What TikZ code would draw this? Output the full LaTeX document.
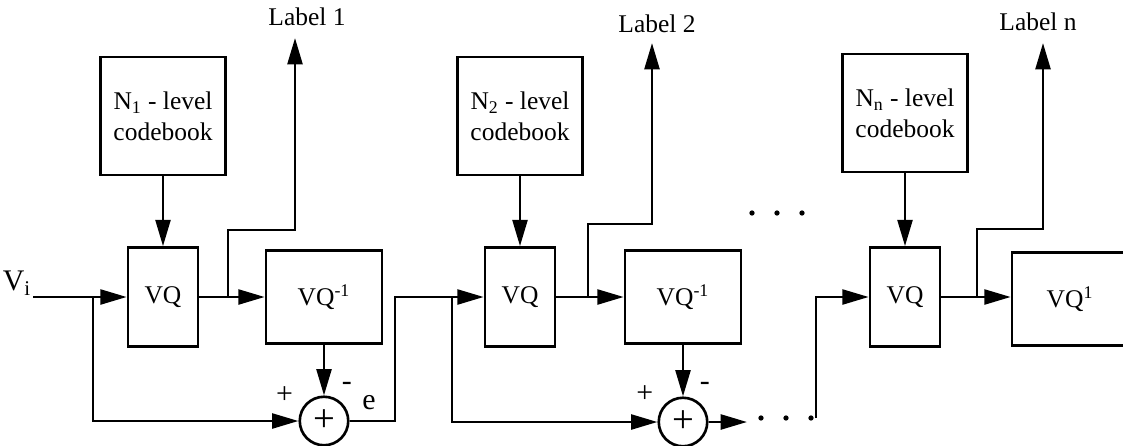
\documentclass[tikz,border=0pt]{standalone}
\usepackage{fontspec}
\setmainfont{Liberation Serif}
\usetikzlibrary{arrows.meta}

\begin{document}
\begin{tikzpicture}[
x=0.2mm,y=-0.2mm,
every node/.style={font=\fontsize{14.5pt}{17.5pt}\selectfont},
cb/.style={draw,line width=1.5pt,align=center,minimum width=2.5cm,minimum height=2.36cm,inner sep=1pt},
vq/.style={draw,line width=1.5pt,minimum width=1.4cm,minimum height=1.98cm},
inv/.style={draw,line width=1.5pt,minimum width=2.32cm,minimum height=1.86cm},
sum/.style={draw,circle,line width=1.5pt,minimum size=0.97cm,inner sep=0pt,font=\fontsize{22pt}{22pt}\selectfont},
pm/.style={label distance=1pt,font=\fontsize{17pt}{17pt}\selectfont},
arr/.style={-{Triangle[length=15pt,width=8.5pt]},line width=1.5pt},
ln/.style={line width=1.5pt}
]
\useasboundingbox (0,0) rectangle (1123,445);
\node[font=\fontsize{17pt}{17pt}\selectfont,inner sep=1pt] (vi) at (17,283) {V\textsubscript{i}};
\node[cb] (cb1) at (163,116) {N\textsubscript{1} - level\\codebook};
\node[vq] (vq1) at (163,297) {VQ};
\node[inv] (inv1) at (324,297) {VQ\textsuperscript{-1}};
\node[sum,label={[pm]155:+},label={[pm]65:-},label={[pm,label distance=4pt]8:e}] (sum1) at (324,421) {+};
\node (lab1) at (307,17) {Label 1};
\coordinate (b1) at (93,297);
\coordinate (j1) at (228,297);
\coordinate (k1) at (295,230);
\coordinate (u1) at (295,38);
\coordinate (t1) at (395,297);
\node[cb] (cb2) at (520,116) {N\textsubscript{2} - level\\codebook};
\node[vq] (vq2) at (520,297) {VQ};
\node[inv] (inv2) at (683,297) {VQ\textsuperscript{-1}};
\node[sum,label={[pm]150:+},label={[pm]67:-}] (sum2) at (683,422) {+};
\node (lab2) at (657,24) {Label 2};
\coordinate (b2) at (452,297);
\coordinate (j2) at (588,297);
\coordinate (k2) at (652,224);
\coordinate (u2) at (652,43);
\coordinate (o2) at (747,422);
\node[cb] (cbn) at (905,113) {N\textsubscript{n} - level\\codebook};
\node[vq] (vqn) at (905,297) {VQ};
\node[inv] (invn) at (1070,299) {VQ\textsuperscript{1}};
\node (labn) at (1038,22) {Label n};
\coordinate (s3) at (816,418);
\coordinate (jn) at (977,297);
\coordinate (kn) at (1043,229);
\coordinate (un) at (1043,43);
\foreach \x in {752,777,802} \fill (\x,213) circle (1.5pt);
\foreach \x in {761,786,811} \fill (\x,418) circle (1.5pt);
\draw[ln] (vi.east |- vq1) -- (b1);
\draw[arr] (b1) -- (vq1);
\draw[arr] (b1) |- (sum1);
\draw[arr] (cb1) -- (vq1);
\draw[ln] (vq1) -- (j1);
\draw[arr] (j1) -- (inv1);
\draw[arr] (j1) |- (k1) -- (u1);
\draw[arr] (inv1) -- (sum1);
\draw[ln] (sum1) -| (t1) -- (b2);
\draw[arr] (b2) -- (vq2);
\draw[arr] (b2) |- (sum2);
\draw[arr] (cb2) -- (vq2);
\draw[ln] (vq2) -- (j2);
\draw[arr] (j2) -- (inv2);
\draw[arr] (j2) |- (k2) -- (u2);
\draw[arr] (inv2) -- (sum2);
\draw[arr] (sum2) -- (o2);
\draw[arr] (s3) |- (vqn);
\draw[arr] (cbn) -- (vqn);
\draw[ln] (vqn) -- (jn);
\draw[arr] (jn) -- (jn -| invn.west);
\draw[arr] (jn) |- (kn) -- (un);
\end{tikzpicture}
\end{document}
